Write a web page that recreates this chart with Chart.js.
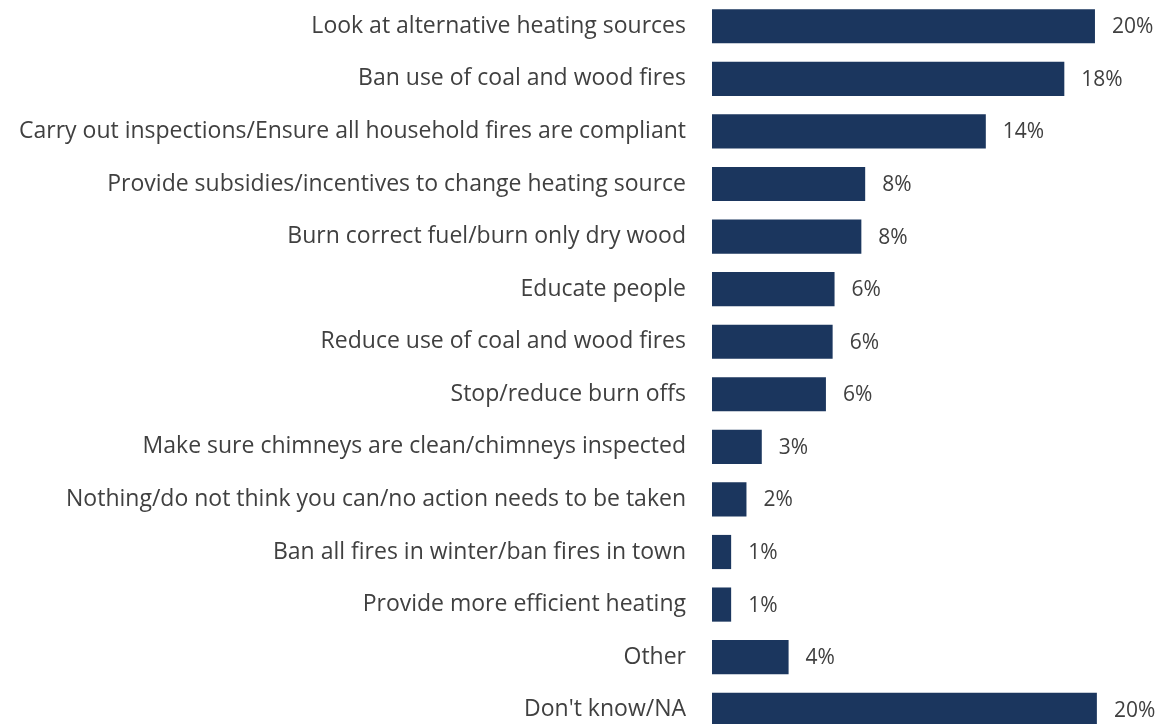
<!DOCTYPE html>
<html>
<head>
    <title>Actions to reduce smoke</title>
    <script src="https://cdn.jsdelivr.net/npm/chart.js"></script>
    <style>
body {
    margin: 0;
    background: #ffffff;
    overflow: hidden;
}
    </style>
</head>
<body>
    <canvas id="actionsChart" width="1157" height="736"></canvas>

    <script>
        // categories and values (percent)
        const categories = [
            'Look at alternative heating sources',
            'Ban use of coal and wood fires',
            'Carry out inspections/Ensure all household fires are compliant',
            'Provide subsidies/incentives to change heating source',
            'Burn correct fuel/burn only dry wood',
            'Educate people',
            'Reduce use of coal and wood fires',
            'Stop/reduce burn offs',
            'Make sure chimneys are clean/chimneys inspected',
            'Nothing/do not think you can/no action needs to be taken',
            'Ban all fires in winter/ban fires in town',
            'Provide more efficient heating',
            'Other',
            "Don't know/NA"
        ];
        const percents = [20.0, 18.4, 14.3, 8.0, 7.8, 6.4, 6.3, 5.95, 2.6, 1.8, 1.0, 1.0, 4.0, 20.1];

        // draws the "20%" style labels at the end of each bar
        const valueLabels = {
            id: 'valueLabels',
            afterDatasetsDraw(chart) {
                const ctx = chart.ctx;
                const meta = chart.getDatasetMeta(0);
                ctx.save();
                ctx.font = '21px "Open Sans", sans-serif';
                ctx.fillStyle = '#404040';
                ctx.textAlign = 'left';
                ctx.textBaseline = 'middle';
                meta.data.forEach((bar, i) => {
                    ctx.fillText(Math.round(percents[i]) + '%', bar.x + 17, bar.y + 1);
                });
                ctx.restore();
            }
        };

        new Chart(document.getElementById('actionsChart'), {
            type: 'bar',
            data: {
                labels: categories,
                datasets: [{
                    data: percents,
                    backgroundColor: '#1b365e',
                    borderWidth: 0,
                    categoryPercentage: 0.65,
                    barPercentage: 1.0
                }]
            },
            options: {
                indexAxis: 'y',
                responsive: false,
                animation: false,
                layout: { padding: 0 },
                plugins: {
                    legend: { display: false },
                    tooltip: { enabled: false }
                },
                scales: {
                    x: {
                        display: false,
                        min: 0,
                        max: 23.24
                    },
                    y: {
                        grid: { display: false, drawTicks: false },
                        border: { display: false },
                        ticks: {
                            color: '#404040',
                            padding: 26,
                            autoSkip: false,
                            font: { family: '"Open Sans", sans-serif', size: 23 }
                        },
                        afterFit(scale) {
                            scale.width = 712;
                            // label padding should not eat vertical space
                            scale.paddingTop = 0;
                            scale.paddingBottom = 0;
                        }
                    }
                }
            },
            plugins: [valueLabels]
        });
    </script>
</body>
</html>
